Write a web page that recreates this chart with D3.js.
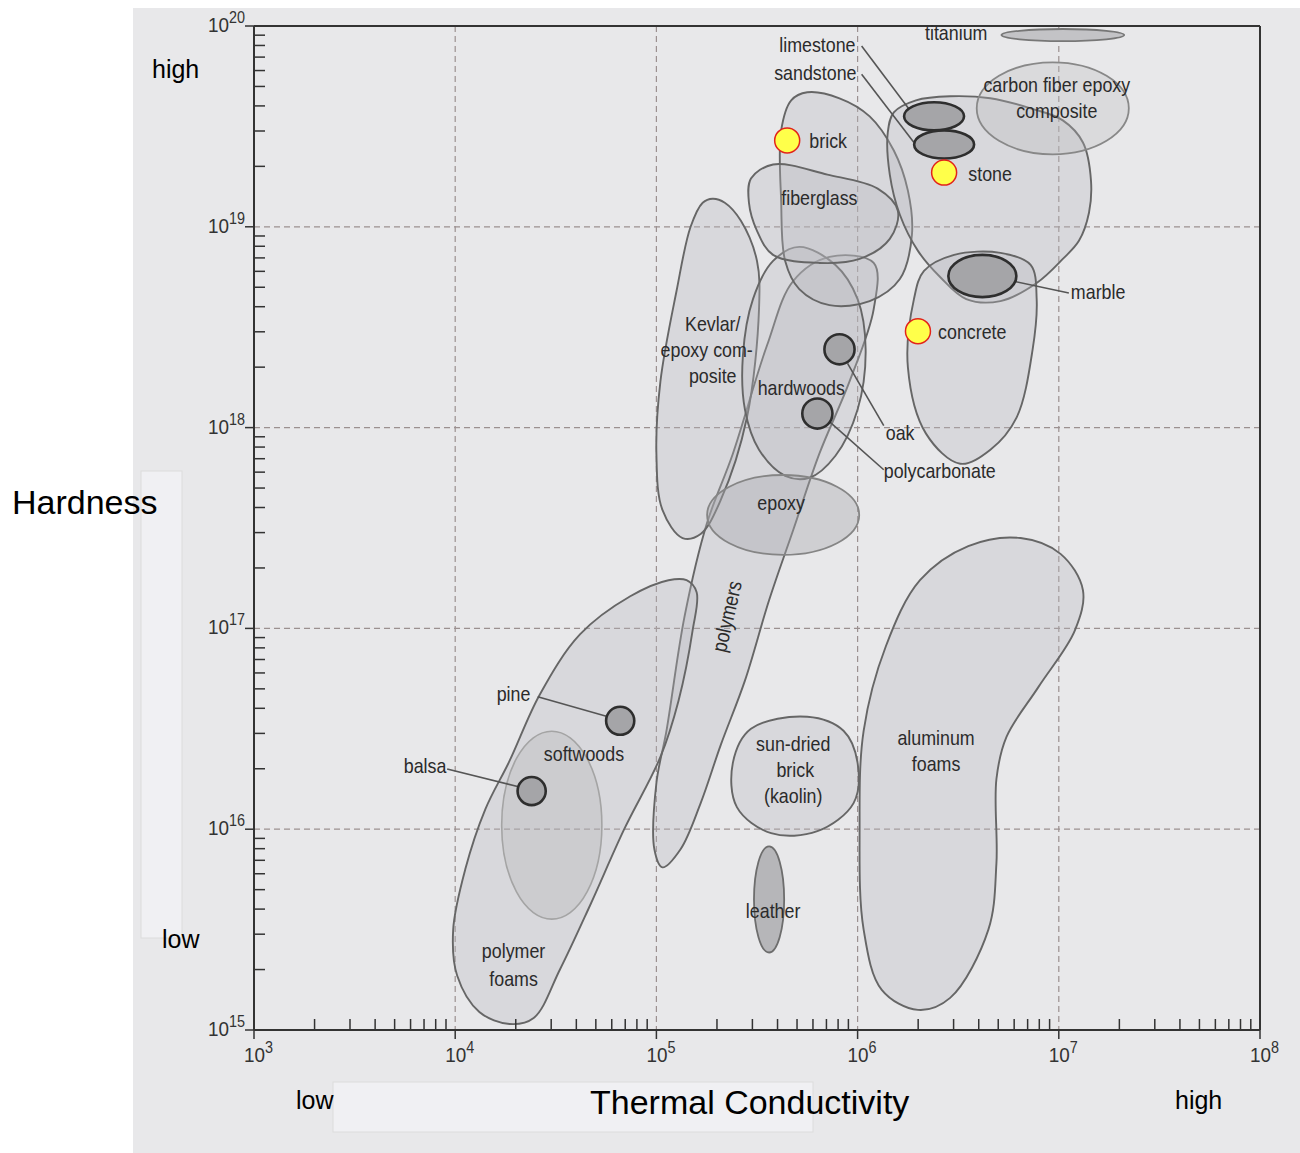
<!DOCTYPE html>
<html><head><meta charset="utf-8">
<script src="https://cdn.jsdelivr.net/npm/d3@7/dist/d3.min.js"></script>
<style>
html,body{margin:0;padding:0;background:#fff;}
svg{display:block;}
</style></head>
<body>
<svg id="chart" width="1300" height="1153"></svg>
<script>
// ---------- DATA (exponents: log10 thermal conductivity, log10 hardness) ----------
const xTickExps = [3, 4, 5, 6, 7, 8];
const yTickExps = [15, 16, 17, 18, 19, 20];
const xDomain = [1e3, 1e8];
const yDomain = [1e15, 1e20];

// envelope outlines [logK, logH]
const polymersBand = [[6.08,18.82],[6.08,18.59],[5.96,18.23],[5.81,17.87],[5.68,17.49],[5.56,17.14],[5.44,16.74],[5.32,16.42],[5.22,16.13],[5.12,15.90],[5.03,15.81],[4.99,15.90],[5.00,16.23],[5.05,16.49],[5.14,17.06],[5.25,17.52],[5.38,17.87],[5.55,18.41],[5.68,18.73],[5.86,18.85]];
const woodEnvelope = [[5.15,17.24],[5.20,17.18],[5.18,16.99],[5.11,16.64],[5.02,16.36],[4.84,16.00],[4.67,15.62],[4.52,15.30],[4.39,15.06],[4.27,15.03],[4.12,15.09],[4.01,15.27],[3.99,15.50],[4.05,15.80],[4.15,16.10],[4.27,16.34],[4.42,16.67],[4.62,16.97],[4.87,17.16],[5.06,17.24]];
const kevlarOutline = [[5.23,19.12],[5.28,19.14],[5.34,19.12],[5.42,19.03],[5.50,18.83],[5.51,18.59],[5.45,18.05],[5.32,17.64],[5.22,17.47],[5.13,17.45],[5.03,17.59],[5.00,17.87],[5.02,18.23],[5.10,18.68],[5.17,19.00]];
const hardwoodsOutline = [[5.71,18.90],[5.89,18.81],[6.00,18.64],[6.04,18.39],[6.00,18.09],[5.89,17.86],[5.76,17.75],[5.64,17.76],[5.51,17.89],[5.44,18.09],[5.43,18.36],[5.48,18.64],[5.58,18.83]];
const brickOutline = [[5.75,19.67],[5.91,19.64],[6.06,19.55],[6.18,19.38],[6.25,19.18],[6.27,18.96],[6.21,18.74],[6.06,18.63],[5.86,18.61],[5.71,18.69],[5.64,18.83],[5.62,19.13],[5.62,19.48],[5.67,19.63]];
const fiberglassOutline = [[5.46,19.12],[5.47,19.24],[5.58,19.31],[5.85,19.26],[6.10,19.19],[6.20,19.08],[6.16,18.94],[6.01,18.84],[5.81,18.82],[5.58,18.86],[5.50,18.98]];
const stoneOutline = [[6.15,19.47],[6.18,19.57],[6.29,19.63],[6.46,19.65],[6.66,19.64],[6.86,19.59],[7.02,19.53],[7.12,19.42],[7.16,19.23],[7.15,19.07],[7.10,18.93],[7.02,18.84],[6.89,18.72],[6.71,18.63],[6.54,18.64],[6.41,18.75],[6.30,18.88],[6.21,19.06],[6.16,19.26]];
const concreteOutline = [[6.28,18.64],[6.33,18.78],[6.48,18.86],[6.71,18.87],[6.86,18.81],[6.89,18.64],[6.87,18.39],[6.79,18.05],[6.66,17.89],[6.51,17.82],[6.34,17.97],[6.25,18.30]];
const aluminumOutline = [[6.81,17.45],[7.01,17.37],[7.12,17.19],[7.08,16.99],[6.90,16.71],[6.74,16.46],[6.69,16.25],[6.69,15.83],[6.65,15.50],[6.46,15.16],[6.30,15.10],[6.12,15.20],[6.03,15.50],[6.01,16.00],[6.03,16.49],[6.14,16.91],[6.31,17.24],[6.55,17.41]];
const sunDriedOutline = [[5.75,16.56],[5.93,16.49],[6.00,16.33],[5.98,16.13],[5.80,15.99],[5.57,15.98],[5.40,16.11],[5.38,16.33],[5.47,16.50]];

// ellipses: [name, logK center, logH center, half-width (decades), half-height (decades)]
const lightEllipses = [
  ["carbon fiber epoxy", 6.97, 19.59, 0.378, 0.229],
  ["epoxy", 5.63, 17.565, 0.378, 0.199],
  ["softwoods", 4.48, 16.02, 0.249, 0.468]
];
const titaniumEllipse = [7.02, 19.955, 0.305, 0.03];
const leatherEllipse = [5.56, 15.65, 0.075, 0.264];
const darkEllipses = [
  ["limestone", 6.38, 19.55, 0.149, 0.07],
  ["sandstone", 6.43, 19.41, 0.149, 0.07],
  ["marble", 6.62, 18.755, 0.169, 0.105],
  ["oak", 5.91, 18.39, 0.075, 0.075],
  ["polycarbonate", 5.80, 18.07, 0.075, 0.075],
  ["pine", 4.82, 16.54, 0.07, 0.07],
  ["balsa", 4.38, 16.19, 0.07, 0.07]
];
// leader lines [logK1, logH1, logK2, logH2]
const leaders = [
  [6.02,19.90,6.26,19.58],
  [6.02,19.76,6.28,19.42],
  [6.77,18.73,7.05,18.67],
  [5.95,18.32,6.13,18.01],
  [5.86,18.03,6.13,17.79],
  [4.41,16.66,4.76,16.56],
  [3.96,16.30,4.32,16.21]
];
// labels [text, logK, logH, anchor]
const labels = [
  ["titanium",6.49,19.93,"middle"],
  ["limestone",5.80,19.87,"middle"],
  ["sandstone",5.79,19.73,"middle"],
  ["carbon fiber epoxy",6.99,19.67,"middle"],
  ["composite",6.99,19.54,"middle"],
  ["brick",5.76,19.39,"start"],
  ["stone",6.55,19.23,"start"],
  ["fiberglass",5.81,19.11,"middle"],
  ["marble",7.06,18.64,"start"],
  ["concrete",6.40,18.44,"start"],
  ["Kevlar/",5.28,18.48,"middle"],
  ["epoxy com-",5.25,18.35,"middle"],
  ["posite",5.28,18.22,"middle"],
  ["hardwoods",5.72,18.16,"middle"],
  ["oak",6.14,17.94,"start"],
  ["polycarbonate",6.13,17.75,"start"],
  ["epoxy",5.62,17.59,"middle"],
  ["pine",4.29,16.64,"middle"],
  ["softwoods",4.64,16.34,"middle"],
  ["balsa",3.85,16.28,"middle"],
  ["polymer",4.29,15.36,"middle"],
  ["foams",4.29,15.22,"middle"],
  ["sun-dried",5.68,16.39,"middle"],
  ["brick",5.69,16.26,"middle"],
  ["(kaolin)",5.68,16.13,"middle"],
  ["aluminum",6.39,16.42,"middle"],
  ["foams",6.39,16.29,"middle"],
  ["leather",5.58,15.56,"middle"]
];
const rotatedLabel = ["polymers", 5.35, 17.06];
// highlighted materials [name, logK, logH]
const highlights = [["brick",5.65,19.43],["stone",6.43,19.27],["concrete",6.30,18.48]];

// ---------- DRAW ----------
const svg = d3.select("#chart");
const x = d3.scaleLog().domain(xDomain).range([254, 1260]);
const y = d3.scaleLog().domain(yDomain).range([1030, 26]);
const px = e => x(Math.pow(10, e));
const py = e => y(Math.pow(10, e));
const FONT = "'Liberation Sans',Arial,sans-serif";

// scanned page background
svg.append("rect").attr("x",133).attr("y",8).attr("width",1167).attr("height",1145).attr("fill","#e8e8ea");

// grid
const grid = svg.append("g").attr("stroke","#9b9090").attr("stroke-width",1.2).attr("stroke-dasharray","6,4");
xTickExps.slice(1,-1).forEach(e=>{
  grid.append("line").attr("x1",px(e)).attr("x2",px(e)).attr("y1",y.range()[1]).attr("y2",y.range()[0]);
});
yTickExps.slice(1,-1).forEach(e=>{
  grid.append("line").attr("y1",py(e)).attr("y2",py(e)).attr("x1",x.range()[0]).attr("x2",x.range()[1]);
});

const line = d3.line().x(d=>px(d[0])).y(d=>py(d[1])).curve(d3.curveCatmullRomClosed.alpha(0.5));
const env = svg.append("g");
const envFill = "rgba(185,185,190,0.32)";
[polymersBand, woodEnvelope, kevlarOutline, hardwoodsOutline, brickOutline, fiberglassOutline,
 stoneOutline, concreteOutline, aluminumOutline, sunDriedOutline].forEach(o=>{
  env.append("path").attr("d",line(o)).attr("fill",envFill).attr("stroke","#666").attr("stroke-width",1.9);
});
const ell = (g, c) => g.append("ellipse")
  .attr("cx",px(c[0])).attr("cy",py(c[1]))
  .attr("rx",px(c[0]+c[2])-px(c[0])).attr("ry",py(c[1])-py(c[1]+c[3]));
lightEllipses.forEach(d=>{
  const e = ell(env, d.slice(1));
  if (d[0]==="softwoods") e.attr("fill","rgba(175,175,180,0.3)").attr("stroke","#a4a4a4").attr("stroke-width",1.6);
  else if (d[0]==="epoxy") e.attr("fill","rgba(170,170,176,0.4)").attr("stroke","#858585").attr("stroke-width",1.8);
  else e.attr("fill","rgba(185,185,190,0.3)").attr("stroke","#888").attr("stroke-width",1.8);
});
ell(env, titaniumEllipse).attr("fill","#c3c3c6").attr("stroke","#777").attr("stroke-width",1.8);
ell(env, leatherEllipse).attr("fill","#b6b6b9").attr("stroke","#6d6d6d").attr("stroke-width",1.8);

// leaders
svg.append("g").selectAll("line").data(leaders).join("line")
  .attr("x1",d=>px(d[0])).attr("y1",d=>py(d[1])).attr("x2",d=>px(d[2])).attr("y2",d=>py(d[3]))
  .attr("stroke","#555").attr("stroke-width",1.6);

// dark small ellipses
const dk = svg.append("g");
darkEllipses.forEach(d=>{
  ell(dk, d.slice(1)).attr("fill","#a5a5a8").attr("stroke","#2e2e2e").attr("stroke-width",2.6);
});

// axes frame
const ax = svg.append("g").attr("stroke","#333").attr("stroke-width",2);
ax.append("line").attr("x1",x.range()[0]).attr("x2",x.range()[0]).attr("y1",y.range()[1]).attr("y2",y.range()[0]);
ax.append("line").attr("x1",x.range()[0]).attr("x2",x.range()[1]).attr("y1",y.range()[0]).attr("y2",y.range()[0]);
ax.append("line").attr("x1",x.range()[0]).attr("x2",x.range()[1]).attr("y1",y.range()[1]).attr("y2",y.range()[1]);
ax.append("line").attr("x1",x.range()[1]).attr("x2",x.range()[1]).attr("y1",y.range()[1]).attr("y2",y.range()[0]);
const tk = svg.append("g").attr("stroke","#333").attr("stroke-width",1.5);
// major ticks
xTickExps.forEach(e=>{ tk.append("line").attr("x1",px(e)).attr("x2",px(e)).attr("y1",y.range()[0]).attr("y2",y.range()[0]+9); });
yTickExps.forEach(e=>{ tk.append("line").attr("y1",py(e)).attr("y2",py(e)).attr("x1",x.range()[0]-9).attr("x2",x.range()[0]); });
// minor ticks
xTickExps.slice(0,-1).forEach(e=>{
  for(let m=2;m<=9;m++){ const v=m*Math.pow(10,e);
    tk.append("line").attr("x1",x(v)).attr("x2",x(v)).attr("y1",y.range()[0]).attr("y2",y.range()[0]-11); }
});
yTickExps.slice(0,-1).forEach(e=>{
  for(let m=2;m<=9;m++){ const v=m*Math.pow(10,e);
    tk.append("line").attr("y1",y(v)).attr("y2",y(v)).attr("x1",x.range()[0]).attr("x2",x.range()[0]+11); }
});
// tick labels
const tl = svg.append("g").attr("fill","#333").attr("font-family",FONT);
xTickExps.forEach(e=>{
  const t = tl.append("text").attr("transform",`translate(${px(e)-10},${y.range()[0]+32}) scale(0.9,1)`).attr("font-size",21);
  t.append("tspan").text("10");
  t.append("tspan").attr("dy",-9).attr("font-size",16).text(e);
});
yTickExps.forEach(e=>{
  const t = tl.append("text").attr("transform",`translate(${x.range()[0]-9},${py(e)+6}) scale(0.9,1)`).attr("font-size",21).attr("text-anchor","end");
  t.append("tspan").text("10");
  t.append("tspan").attr("dy",-9).attr("font-size",16).text(e);
});

// labels (condensed like the scanned type)
const lb = svg.append("g").attr("fill","#2b2b2b").attr("font-family",FONT).attr("font-size",21);
lb.selectAll("text").data(labels).join("text")
  .attr("transform",d=>`translate(${px(d[1])},${py(d[2])}) scale(0.85,1)`)
  .attr("text-anchor",d=>d[3]).text(d=>d[0]);
lb.append("text").attr("transform",`translate(${px(rotatedLabel[1])},${py(rotatedLabel[2])}) rotate(-77) scale(0.85,1)`)
  .attr("text-anchor","middle").attr("dy","0.35em").text(rotatedLabel[0]);

// highlighted points
svg.append("g").selectAll("circle").data(highlights).join("circle")
  .attr("cx",d=>px(d[1])).attr("cy",d=>py(d[2])).attr("r",12.5)
  .attr("fill","#ffff4a").attr("stroke","#e2231a").attr("stroke-width",1.5);

// overlay axis titles
svg.append("rect").attr("x",141).attr("y",471).attr("width",41).attr("height",467).attr("fill","#f0f0f3").attr("stroke","#dcdcdc");
svg.append("rect").attr("x",333).attr("y",1082).attr("width",480).attr("height",50).attr("fill","#f0f0f3").attr("stroke","#dcdcdc");
const ov = svg.append("g").attr("fill","#000").attr("font-family",FONT);
ov.append("text").attr("x",12).attr("y",514).attr("font-size",34).text("Hardness");
ov.append("text").attr("x",152).attr("y",78).attr("font-size",25).text("high");
ov.append("text").attr("x",162).attr("y",948).attr("font-size",25).text("low");
ov.append("text").attr("x",590).attr("y",1114).attr("font-size",34).text("Thermal Conductivity");
ov.append("text").attr("x",296).attr("y",1109).attr("font-size",25).text("low");
ov.append("text").attr("x",1175).attr("y",1109).attr("font-size",25).text("high");
</script>
</body></html>
